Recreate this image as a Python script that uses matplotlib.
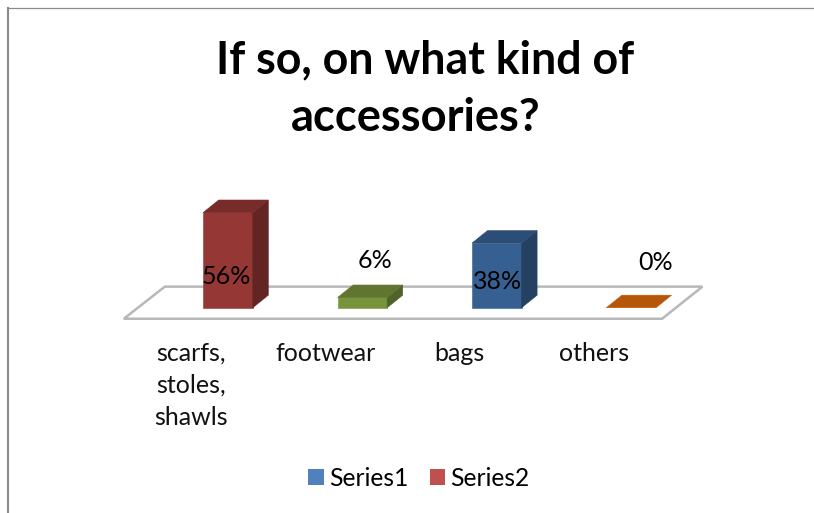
import matplotlib
matplotlib.use('Agg')
import matplotlib.pyplot as plt
from matplotlib.patches import Polygon, Patch

plt.rcParams['font.family'] = ['Lato', 'DejaVu Sans']

title_lines = ['If so, on what kind of', 'accessories?']
categories = ['scarfs,\nstoles,\nshawls', 'footwear', 'bags', 'others']
values = [56, 6, 38, 0]
series_names = ['Series1', 'Series2']

front_colors = ['#953735', '#77933c', '#376092', '#b65708']
top_colors = ['#772c2a', '#5f7530', '#2c4d75', '#b65708']
side_colors = ['#632523', '#4f6228', '#254061', '#984807']
legend_colors = ['#4f81bd', '#c0504d']

W, H = 814, 513
x0_px, x_step = 228.0, 134.4
y0_px, y_step = 307.7, 1.7

# one unit on x is a category, one unit on y is a percentage point
fig = plt.figure(figsize=(W / 100, H / 100), dpi=100)
ax = fig.add_axes([0, 0, 1, 1])
ax.set_xlim(-x0_px / x_step, (W - x0_px) / x_step)
ax.set_ylim((y0_px - H) / y_step, y0_px / y_step)
ax.axis('off')

half = 24.8 / x_step
dep_x = 15.5 / x_step
dep_y = 12.5 / y_step


def face(points, color):
    # thin edge in the fill colour closes the seams between faces
    ax.add_patch(Polygon(points, fc=color, ec=color, lw=0.4, zorder=3))


# floor of the 3d plot
fl = 6.5
floor = [(-0.775, -fl), (3.23, -fl), (3.53, 12.4), (-0.47, 12.4)]
ax.add_patch(Polygon(floor, closed=True, fc='white', ec='#b8b8b8', lw=1.8, zorder=1))

for i, v in enumerate(values):
    l, r = i - half, i + half
    if v > 0:
        face([(l, 0), (r, 0), (r, v), (l, v)], front_colors[i])
        face([(r, 0), (r + dep_x, dep_y), (r + dep_x, v + dep_y), (r, v)], side_colors[i])
    face([(l, v), (r, v), (r + dep_x, v + dep_y), (l + dep_x, v + dep_y)], top_colors[i])

# value labels
label_dx = [-0.015, 0.097, 0.007, 0.179]
label_y = [18.6, 27.5, 15.7, 26.3]
for i, v in enumerate(values):
    ax.text(i + label_dx[i], label_y[i], '%d%%' % v, ha='center', va='center',
            fontsize=18, color='black', zorder=4)

# category labels
for i, c in enumerate(categories):
    ax.text(i - 0.277, -20, c, ha='center', va='top', fontsize=18, color='#111111',
            linespacing=1.49, zorder=4)

# the title lines are not centred on each other
fig.text(425 / W, 1 - 60 / H, title_lines[0], ha='center', va='center', fontsize=32.2,
         fontweight='bold', color='black')
fig.text(416 / W, 1 - 118 / H, title_lines[1], ha='center', va='center', fontsize=32.6,
         fontweight='bold', color='black')

handles = [Patch(fc=legend_colors[0]), Patch(fc=legend_colors[1])]
fig.legend(handles, series_names, loc='center', bbox_to_anchor=(419 / W, 1 - 478 / H), ncol=2,
           frameon=False, fontsize=17.7, handlelength=0.62, handleheight=0.62,
           handletextpad=0.22, columnspacing=0.86)

# chart frame, only the top and left edges show
ax_frame = fig.add_axes([0, 0, 1, 1], facecolor='none')
ax_frame.set_xlim(0, W)
ax_frame.set_ylim(H, 0)
ax_frame.axis('off')
ax_frame.plot([8, 8], [8, H], color='#8a8a8a', lw=1.5)
ax_frame.plot([8, W], [8, 8], color='#8a8a8a', lw=0.9)

fig.savefig('out.png', dpi=100)
